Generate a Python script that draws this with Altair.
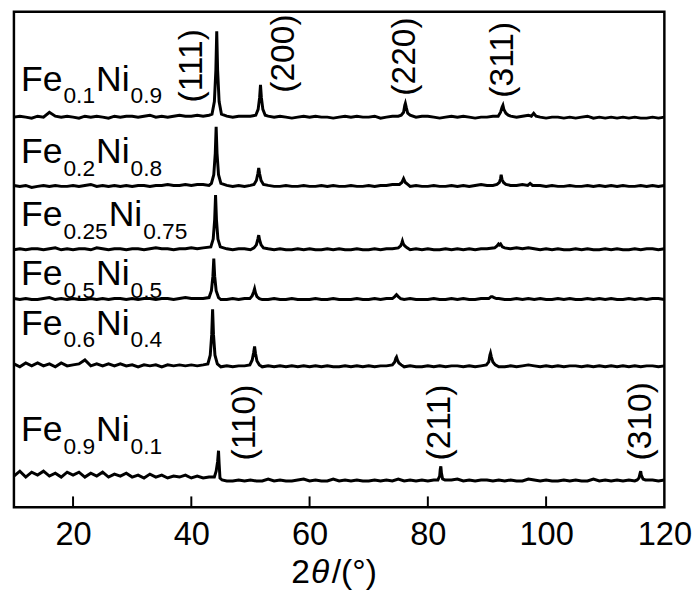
import altair as alt
import pandas as pd

# ---------------- data ----------------
two_theta = list(range(10, 121))  # sampling grid of the noisy baselines, degrees

series_names = ["Fe0.1Ni0.9", "Fe0.2Ni0.8", "Fe0.25Ni0.75", "Fe0.5Ni0.5", "Fe0.6Ni0.4", "Fe0.9Ni0.1"]
offsets = [400, 329, 264, 213, 144, 27]  # vertical stacking offsets (a.u.)

noise_A = [0, 1, 0, -1, 1, 0, 5, 1, 0, 1,
           0, -1, 1, 0, 1, 0, -1, 1, 0, 1,
           1, 0, 1, 2, 0, 1, 0, 1, 2, 1,
           1, 2, 1, 2, 0, 1, 1, 0, 1, 1,
           1, 0, 0, 1, 0, 1, 0, -1, 0, 1,
           0, 1, 0, 0, -1, 0, 1, 0, 1, 0,
           0, 1, -1, 0, 1, 1, 2, 1, 0, 1,
           1, 0, -1, 0, 1, 0, 1, 0, -1, 0,
           0, 1, 1, 0, 1, 0, 1, 2, 1, 0,
           -1, 0, 0, -1, 0, -1, 0, 1, -1, 0,
           -1, 0, -1, 0, -1, 0, -1, -1, 0, -1, 0]
noise_B = [1, 0, 1, -1, 0, 1, 0, 1, 0, 0,
           1, 0, 1, 2, 0, 1, 0, 1, 0, 1,
           0, 1, 1, 0, 1, 1, 2, 1, 1, 2,
           1, 2, 2, 1, 0, 0, 1, 0, 1, 0,
           1, 0, 0, 1, 0, 0, 1, 0, 0, 1,
           0, 0, 1, 0, 1, 0, 0, 1, 0, 0,
           1, 0, 1, 1, 2, 1, 0, 0, 1, 0,
           0, 1, 0, 0, 1, 0, 1, 0, 1, 2,
           1, 1, 0, 0, 1, 1, 2, 1, 0, 1,
           0, 1, 0, 0, 1, 0, 0, 1, 0, 1,
           0, 1, 0, 1, 0, 0, 1, 0, 1, 0, 1]
noise_C = [0, 1, 0, 1, 1, 0, 1, 2, 0, 1,
           0, 1, 1, 0, 2, 1, 0, 1, 1, 0,
           1, 1, 0, 1, 2, 1, 1, 0, 1, 1,
           2, 1, 2, 2, 0, 0, 1, 0, 1, 1,
           0, 0, 0, 1, 0, 1, 0, 0, 1, 0,
           1, 0, 0, 1, 0, 1, 0, 0, 1, 0,
           0, 1, 0, 1, 1, 2, 0, 0, 1, 0,
           1, 0, 0, 1, 0, 1, 0, 1, 0, 1,
           1, 2, 0, 0, 1, 2, 1, 2, 1, 0,
           1, 0, 1, 0, 0, 1, 0, 1, 0, 0,
           1, 0, 1, 0, 0, 1, 0, 1, 1, 0, 1]
noise_D = [1, 0, 1, 0, 0, 1, 2, 0, 1, 0,
           1, 0, 0, 1, 0, 1, 0, 1, 1, 0,
           1, 0, 1, 1, 0, 1, 1, 0, 1, 2,
           1, 1, 1, 2, 0, 0, 0, 1, 0, 1,
           0, 0, 0, 0, 1, 0, 0, 1, 0, 0,
           0, 1, 0, 0, 1, 0, 0, 0, 1, 0,
           0, 1, 0, 1, 1, 0, 0, 1, 0, 0,
           0, 1, 0, 0, 1, 0, 1, 0, 0, 1,
           0, 1, 1, 0, 0, 1, 0, 1, 0, 1,
           0, 0, 1, 0, 1, 0, 0, 1, 0, 1,
           0, 1, 0, 0, 1, 0, 1, 0, 1, 1, 0]
noise_E = [3, 0, 4, 1, 4, 1, 3, 0, 4, 1,
           2, 3, 7, 1, 3, 1, 3, 1, 3, 1,
           2, 0, 2, 1, 2, 0, 2, 1, 2, 1,
           2, 1, 2, 3, 0, 0, 1, 0, 1, 1,
           0, 0, 0, 1, 0, 1, 0, 1, 0, 1,
           0, 1, 0, 1, 0, 0, 1, 0, 1, 0,
           1, 0, 1, 1, 2, 0, 0, 1, 0, 0,
           1, 0, 1, 0, 1, 1, 0, 1, 0, 1,
           0, 1, 0, 0, 1, 0, 1, 2, 1, 0,
           1, 0, 1, 0, 1, 1, 0, 1, 0, 1,
           0, 1, 0, 1, 0, 1, 0, 1, 1, 0, 1]
noise_F = [5, 10, 4, 9, 6, 10, 5, 8, 4, 9,
           6, 9, 4, 8, 5, 9, 4, 7, 5, 8,
           4, 6, 3, 7, 4, 6, 3, 5, 4, 6,
           3, 5, 3, 4, 0, 0, 0, 0, 1, 0,
           1, 0, 0, 2, 0, 1, 0, 0, 1, 2,
           0, 1, 0, 0, 2, 0, 1, 0, 1, 0,
           0, 1, 0, 1, 0, 2, 0, 1, 0, 1,
           0, 1, 0, 0, 1, 2, 0, 1, 0, 1,
           1, 0, 1, 0, 1, 0, 0, 2, 1, 0,
           1, 0, 0, 1, 0, 1, 0, 0, 2, 0,
           1, 0, 1, 0, 1, 0, 2, 0, 1, 0, 1]

# diffraction peaks: (2theta, intensity above baseline)
peaks_A = [[(43.5, 3), (43.9, 16), (44.15, 48), (44.3, 88), (44.45, 48), (44.7, 16), (45.1, 3)],
           [(50.9, 2), (51.3, 8), (51.55, 20), (51.7, 33), (51.85, 20), (52.1, 8), (52.5, 2)],
           [(75.5, 2), (75.9, 5), (76.1, 12), (76.2, 14), (76.35, 10), (76.6, 4), (77.0, 2)],
           [(91.9, 1), (92.3, 5), (92.55, 10), (92.7, 12), (92.85, 8), (93.2, 4), (93.6, 2)],
           [(97.5, 1), (97.9, 4), (98.3, 1)]]
peaks_B = [[(43.4, 3), (43.8, 12), (44.05, 34), (44.2, 61), (44.35, 34), (44.6, 12), (45.0, 3)],
           [(50.6, 2), (51.0, 6), (51.25, 13), (51.4, 19), (51.55, 13), (51.8, 6), (52.2, 2)],
           [(75.2, 2), (75.6, 4), (75.9, 8), (76.2, 4), (76.6, 2)],
           [(91.7, 2), (92.1, 4), (92.3, 8), (92.4, 12), (92.55, 7), (92.8, 4), (93.2, 2)],
           [(96.9, 1), (97.3, 3), (97.7, 1)]]
peaks_C = [[(43.3, 3), (43.7, 11), (43.95, 31), (44.1, 56), (44.25, 31), (44.5, 11), (44.9, 3)],
           [(50.6, 2), (51.0, 5), (51.25, 11), (51.4, 15), (51.55, 10), (51.8, 5), (52.2, 2)],
           [(75.0, 2), (75.4, 4), (75.6, 7), (75.7, 9), (75.85, 6), (76.1, 4), (76.5, 2)],
           [(91.3, 2), (91.7, 4), (91.95, 6), (92.1, 5), (92.3, 6), (92.6, 3), (93.0, 2)]]
peaks_D = [[(43.0, 2), (43.4, 9), (43.65, 24), (43.8, 42), (43.95, 24), (44.2, 9), (44.6, 2)],
           [(49.9, 1), (50.3, 4), (50.55, 8), (50.7, 11), (50.85, 7), (51.1, 3), (51.5, 1)],
           [(74.0, 1), (74.4, 3), (74.7, 5), (75.0, 3), (75.4, 1)],
           [(90.3, 1), (90.7, 3), (90.9, 3), (91.2, 2), (91.6, 1)]]
peaks_E = [[(42.8, 3), (43.2, 12), (43.45, 33), (43.6, 59), (43.75, 33), (44.0, 12), (44.4, 3)],
           [(49.9, 2), (50.3, 7), (50.55, 15), (50.7, 21), (50.85, 14), (51.1, 6), (51.5, 2)],
           [(74.0, 2), (74.4, 5), (74.6, 9), (74.7, 10), (74.85, 7), (75.1, 4), (75.5, 2)],
           [(89.9, 2), (90.3, 5), (90.5, 12), (90.6, 14), (90.75, 10), (91.0, 5), (91.4, 2)]]
peaks_F = [[(43.9, 4), (44.2, 10), (44.45, 20), (44.6, 31), (44.7, 18), (44.85, 3), (45.2, 1)],
           [(81.7, 1), (82.0, 5), (82.1, 12), (82.2, 15), (82.3, 8), (82.5, 2), (82.9, 1)],
           [(115.4, 1), (115.7, 3), (115.9, 8), (116.0, 10), (116.1, 6), (116.4, 2), (116.8, 1)]]

noises = [noise_A, noise_B, noise_C, noise_D, noise_E, noise_F]
peaks = [peaks_A, peaks_B, peaks_C, peaks_D, peaks_E, peaks_F]

# sample labels
fe_sub = ["0.1", "0.2", "0.25", "0.5", "0.6", "0.9"]
ni_sub = ["0.9", "0.8", "0.75", "0.5", "0.4", "0.1"]
label_base = [427, 353, 288, 228, 177, 68]

# Miller index labels
hkl_text = ["(111)", "(200)", "(220)", "(311)", "(110)", "(211)", "(310)"]
hkl_x = [40.2, 55.7, 76.2, 92.7, 49.1, 82.0, 116.0]
hkl_u = [415, 425, 422, 420, 48, 48, 48]

tick_values = [20, 40, 60, 80, 100, 120]
inner_ticks = [20, 40, 60, 80, 100]

# ---------------- build tables ----------------
rows = []
for name, off, noise, plist in zip(series_names, offsets, noises, peaks):
    spans = [(p[0][0], p[-1][0]) for p in plist]
    for x, v in zip(two_theta, noise):
        if any(a - 0.3 <= x <= b + 0.3 for a, b in spans):
            continue
        rows.append({"series": name, "x": x, "u": off + v})
    for p in plist:
        for x, v in p:
            rows.append({"series": name, "x": x, "u": off + v})
df = pd.DataFrame(rows)

W, H = 659, 502
XMIN, XMAX = 10, 120
UMAX = 508
ppd = W / (XMAX - XMIN)

MAIN, SUB = 36, 23
cw = {"F": 0.611, "e": 0.556, "N": 0.722, "i": 0.222, ".": 0.278}
def tw(s, size):
    return sum(cw.get(c, 0.556) for c in s) * size

x0 = 11.2
main_rows, sub_rows = [], []
for a, b, base in zip(fe_sub, ni_sub, label_base):
    w_fe = tw("Fe", MAIN)
    w_a = tw(a, SUB)
    w_ni = tw("Ni", MAIN)
    main_rows.append({"x": x0, "u": base, "t": "Fe"})
    sub_rows.append({"x": x0 + (w_fe + 1) / ppd, "u": base - 13, "t": a})
    main_rows.append({"x": x0 + (w_fe + w_a + 2) / ppd, "u": base, "t": "Ni"})
    sub_rows.append({"x": x0 + (w_fe + w_a + w_ni + 3) / ppd, "u": base - 13, "t": b})
df_main = pd.DataFrame(main_rows)
df_sub = pd.DataFrame(sub_rows)
df_hkl = pd.DataFrame({"x": hkl_x, "u": hkl_u, "t": hkl_text})
df_tick = pd.DataFrame({"x": inner_ticks})

FONT = "Liberation Sans"

x_axis = alt.Axis(values=tick_values, title=None, ticks=False, tickSize=0, domain=False,
                  grid=False, labelFontSize=33, labelFont=FONT, labelColor="black",
                  labelPadding=12, labelFlush=False, labelOverlap=False)
x_enc = alt.X("x:Q", scale=alt.Scale(domain=[XMIN, XMAX], nice=False, zero=False), axis=x_axis)
y_enc = alt.Y("u:Q", scale=alt.Scale(domain=[0, UMAX], nice=False, zero=False), axis=None)

lines = alt.Chart(df).mark_line(color="black", strokeWidth=3).encode(
    x=x_enc, y=y_enc, detail="series:N", order="x:Q")

main_txt = alt.Chart(df_main).mark_text(
    align="left", baseline="alphabetic", fontSize=MAIN, font=FONT, color="black"
).encode(x=x_enc, y=y_enc, text="t:N")

sub_txt = alt.Chart(df_sub).mark_text(
    align="left", baseline="alphabetic", fontSize=SUB, font=FONT, color="black"
).encode(x=x_enc, y=y_enc, text="t:N")

hkl_txt = alt.Chart(df_hkl).mark_text(
    align="left", baseline="middle", angle=270, fontSize=34, font=FONT, color="black"
).encode(x=x_enc, y=y_enc, text="t:N")

ticks = alt.Chart(df_tick).mark_rule(color="black", strokeWidth=2).encode(
    x=x_enc, y=alt.value(H), y2=alt.value(H - 11))

one = pd.DataFrame({"k": [0]})
t2 = alt.Chart(one).mark_text(text="2", align="left", baseline="alphabetic",
                              fontSize=34, font=FONT, color="black").encode(
    x=alt.value(281), y=alt.value(579))
tth = alt.Chart(one).mark_text(text="θ", align="left", baseline="alphabetic",
                               fontSize=34, font=FONT, fontStyle="italic", color="black").encode(
    x=alt.value(301), y=alt.value(579))
tunit = alt.Chart(one).mark_text(text="/(°)", align="left", baseline="alphabetic",
                                 fontSize=34, font=FONT, color="black").encode(
    x=alt.value(322), y=alt.value(579))

chart = alt.layer(lines, ticks, main_txt, sub_txt, hkl_txt, t2, tth, tunit).properties(
    width=W, height=H, padding=0, background="white"
).configure_view(stroke="black", strokeWidth=2.5)

chart.save("out.html", embed_options={"renderer": "svg", "actions": False})
